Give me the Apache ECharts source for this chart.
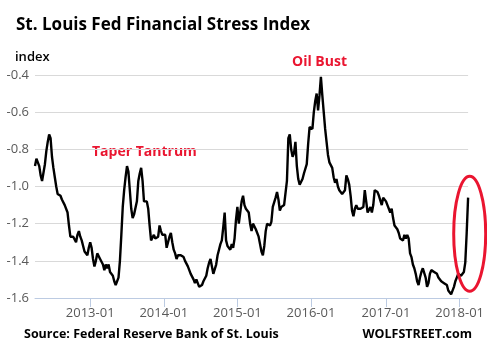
<!DOCTYPE html>
<html>
<head>
<meta charset="utf-8">
<script src="https://cdn.jsdelivr.net/npm/echarts@6/dist/echarts.min.js"></script>
<style>
  html, body { margin:0; padding:0; background:#fff; }
  #chart { width:487px; height:352px; }
</style>
</head>
<body>
<div id="chart"></div>
<script>
// weekly readings, first week 2012-04-06
const firstWeek = [2012, 3, 6];
const stressIndex = [
  -0.89,-0.85,-0.84,-0.89,-0.94,-0.97,-0.98,-0.88,-0.81,-0.76,-0.72,-0.74,-0.84,-0.90,-0.95,-1.00,
  -1.04,-1.04,-1.05,-1.07,-1.06,-1.10,-1.11,-1.14,-1.21,-1.27,-1.26,-1.27,-1.28,-1.30,-1.26,-1.24,
  -1.27,-1.29,-1.32,-1.35,-1.36,-1.37,-1.33,-1.30,-1.33,-1.39,-1.43,-1.40,-1.36,-1.36,-1.39,-1.40,
  -1.42,-1.45,-1.42,-1.44,-1.42,-1.46,-1.47,-1.48,-1.51,-1.53,-1.53,-1.49,-1.40,-1.26,-1.11,-1.02,
  -0.95,-0.89,-0.92,-1.02,-1.12,-1.17,-1.15,-1.16,-1.08,-0.97,-0.93,-0.90,-0.97,-1.08,-1.09,-1.08,
  -1.12,-1.21,-1.29,-1.30,-1.26,-1.28,-1.29,-1.27,-1.21,-1.24,-1.26,-1.27,-1.26,-1.33,-1.30,-1.27,
  -1.25,-1.30,-1.34,-1.36,-1.39,-1.37,-1.36,-1.37,-1.37,-1.38,-1.40,-1.41,-1.43,-1.44,-1.47,-1.48,
  -1.50,-1.52,-1.50,-1.52,-1.54,-1.55,-1.53,-1.51,-1.52,-1.48,-1.44,-1.41,-1.39,-1.43,-1.47,-1.48,
  -1.42,-1.37,-1.34,-1.31,-1.29,-1.22,-1.14,-1.29,-1.32,-1.33,-1.34,-1.31,-1.33,-1.28,-1.18,-1.11,
  -1.20,-1.14,-1.08,-1.05,-1.10,-1.12,-1.12,-1.14,-1.20,-1.24,-1.20,-1.21,-1.23,-1.24,-1.27,-1.31,
  -1.35,-1.37,-1.32,-1.24,-1.20,-1.21,-1.21,-1.19,-1.11,-1.11,-1.06,-1.03,-1.07,-1.13,-1.11,-1.10,
  -1.10,-1.09,-0.97,-0.74,-0.72,-0.80,-0.84,-0.82,-0.76,-0.89,-0.96,-0.99,-0.98,-0.96,-0.93,-0.92,
  -0.88,-0.77,-0.68,-0.69,-0.69,-0.60,-0.54,-0.50,-0.59,-0.51,-0.41,-0.51,-0.60,-0.69,-0.76,-0.83,
  -0.87,-0.88,-0.90,-0.95,-0.98,-0.96,-1.00,-1.02,-1.01,-1.04,-1.05,-1.02,-0.94,-0.96,-0.99,-1.05,
  -1.13,-1.16,-1.12,-1.10,-1.12,-1.13,-1.12,-1.12,-1.11,-1.02,-1.08,-1.14,-1.14,-1.11,-1.14,-1.10,
  -1.02,-1.03,-1.03,-1.05,-1.04,-1.10,-1.06,-1.06,-1.08,-1.10,-1.12,-1.14,-1.12,-1.17,-1.21,-1.21,
  -1.23,-1.25,-1.28,-1.28,-1.29,-1.26,-1.28,-1.26,-1.28,-1.36,-1.38,-1.42,-1.44,-1.47,-1.51,-1.53,
  -1.49,-1.46,-1.44,-1.45,-1.49,-1.54,-1.52,-1.47,-1.45,-1.44,-1.46,-1.47,-1.47,-1.49,-1.50,-1.51,
  -1.51,-1.52,-1.53,-1.53,-1.56,-1.57,-1.58,-1.56,-1.54,-1.51,-1.49,-1.47,-1.47,-1.48,-1.48,-1.46,
  -1.41,-1.25,-1.06
];
const yTicks = [-1.6, -0.4, 0.2]; // min, max, step

const weekMs = 7 * 24 * 3600 * 1000;
const t0 = Date.UTC(firstWeek[0], firstWeek[1], firstWeek[2]);
const weeks = stressIndex.map((v, i) => {
  const d = new Date(t0 + i * weekMs);
  return d.getUTCFullYear() + '-' + String(d.getUTCMonth() + 1).padStart(2, '0') + '-' + String(d.getUTCDate()).padStart(2, '0');
});
// first week of each January gets a tick
const isYearStart = (idx, val) => /-01-0[1-7]$/.test(val);

const chart = echarts.init(document.getElementById('chart'));
const font = '"Open Sans", "Noto Sans", sans-serif';

chart.setOption({
  animation: false,
  backgroundColor: '#fff',
  title: {
    text: 'St. Louis Fed Financial Stress Index',
    left: 11, top: 12,
    textStyle: { fontFamily: font, fontSize: 17, fontWeight: 'bold', color: '#000' }
  },
  grid: { left: 35, right: 15, top: 75, bottom: 54 },
  xAxis: {
    type: 'category',
    data: weeks,
    boundaryGap: false,
    axisLine: { lineStyle: { color: '#bccbe2', width: 1 } },
    axisTick: { interval: isYearStart, length: 9, lineStyle: { color: '#bccbe2' } },
    axisLabel: {
      interval: isYearStart, margin: 9,
      fontFamily: font, fontSize: 13, color: '#595959',
      formatter: v => v.slice(0, 7)
    },
    splitLine: { show: false }
  },
  yAxis: {
    type: 'value',
    min: yTicks[0], max: yTicks[1], interval: yTicks[2],
    axisLine: { show: false },
    axisTick: { show: false },
    axisLabel: {
      margin: 6, fontFamily: font, fontSize: 13, color: '#595959',
      formatter: v => v.toFixed(1)
    },
    splitLine: { lineStyle: { color: '#d9d9d9', width: 1 } }
  },
  series: [{
    type: 'line',
    data: stressIndex,
    showSymbol: false,
    lineStyle: { color: '#000', width: 2.4 },
    z: 3
  }],
  graphic: [
    { type: 'text', left: 15, top: 51, style: { text: 'index', font: '600 13px ' + font, fill: '#000' } },
    { type: 'text', left: 292, top: 55, style: { text: 'Oil Bust', font: 'bold 14px ' + font, fill: '#ea1530' } },
    { type: 'text', left: 92, top: 145, style: { text: 'Taper Tantrum', font: 'bold 14px ' + font, fill: '#ea1530' } },
    { type: 'ellipse', shape: { cx: 469.7, cy: 233.7, rx: 16, ry: 57.5 }, style: { fill: null, stroke: '#ea1530', lineWidth: 3 }, z: 10 },
    { type: 'text', left: 24, top: 328, style: { text: 'Source: Federal Reserve Bank of St. Louis', font: 'bold 12.5px ' + font, fill: '#000' } },
    { type: 'text', right: 15, top: 328, style: { text: 'WOLFSTREET.com', font: 'bold 12.5px ' + font, fill: '#000' } }
  ]
});
</script>
</body>
</html>
